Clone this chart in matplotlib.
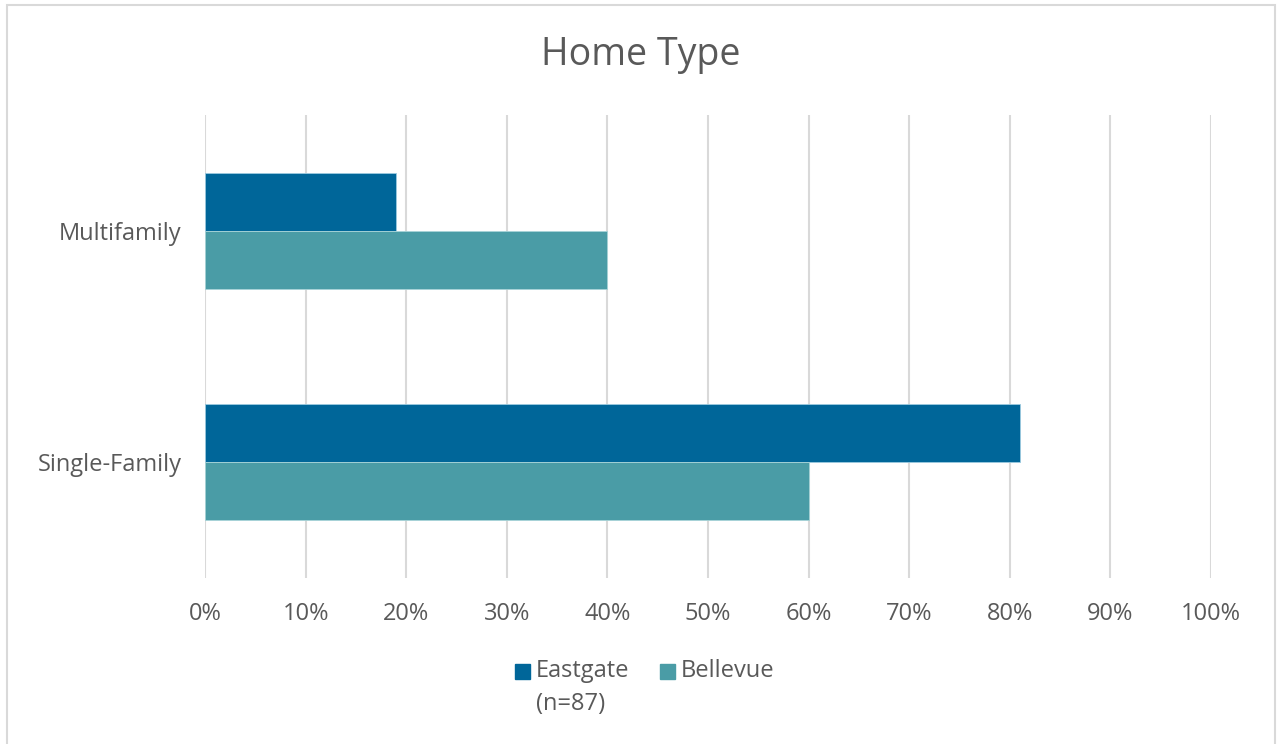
import numpy as np
import matplotlib.pyplot as plt
from matplotlib.patches import Rectangle

categories = ['Single-Family', 'Multifamily']
eastgate = [81, 19]
bellevue = [60, 40]
series_names = ['Eastgate', 'Bellevue']
eastgate_note = '(n=87)'
colors = ['#006699', '#4a9ca6']
x_ticks = list(range(0, 101, 10))

plt.rcParams['font.family'] = ['Open Sans', 'DejaVu Sans']
text_col = '#595959'
W, H = 1278, 744

fig = plt.figure(figsize=(W / 100, H / 100), dpi=100)
ax = fig.add_axes([205 / W, 1 - 578 / H, 1006 / W, 463 / H])

y = np.arange(len(categories))
h = 0.25
ax.barh(y + h / 2, eastgate, height=h, color=colors[0], edgecolor='#9ccbe0', linewidth=0.6, zorder=3)
ax.barh(y - h / 2, bellevue, height=h, color=colors[1], edgecolor='#a8d4d8', linewidth=0.6, zorder=3)

ax.set_xlim(0, 100)
ax.set_ylim(-0.5, 1.5)
ax.set_xticks(x_ticks)
ax.set_xticklabels([f'{t}%' for t in x_ticks])
ax.set_yticks(y)
ax.set_yticklabels(categories)
ax.tick_params(axis='both', length=0, labelsize=17, colors=text_col)
ax.tick_params(axis='x', pad=17)
ax.tick_params(axis='y', pad=17)
ax.grid(axis='x', color='#d9d9d9', linewidth=1.5, zorder=0)
for s in ax.spines.values():
    s.set_visible(False)

fig.text(641 / W, 1 - 55 / H, 'Home Type', ha='center', va='center', fontsize=27, color=text_col)

# legend, drawn by hand so the handle lines up with the first line of the wrapped label
legend_x = [515, 660]
for i, name in enumerate(series_names):
    fig.patches.append(Rectangle((legend_x[i] / W, 1 - 679 / H), 15 / W, 15 / H,
                                 transform=fig.transFigure, color=colors[i]))
    fig.text((legend_x[i] + 21) / W, 1 - 671 / H, name, ha='left', va='center',
             fontsize=17, color=text_col)
fig.text((legend_x[0] + 21) / W, 1 - 704 / H, eastgate_note, ha='left', va='center',
         fontsize=17, color=text_col)

fig.patches.append(Rectangle((7 / W, -0.01), 1268 / W, 1 - 5 / H + 0.01,
                             transform=fig.transFigure, fill=False, edgecolor='#d9d9d9', linewidth=1.5))

fig.savefig('out.png', dpi=100)
